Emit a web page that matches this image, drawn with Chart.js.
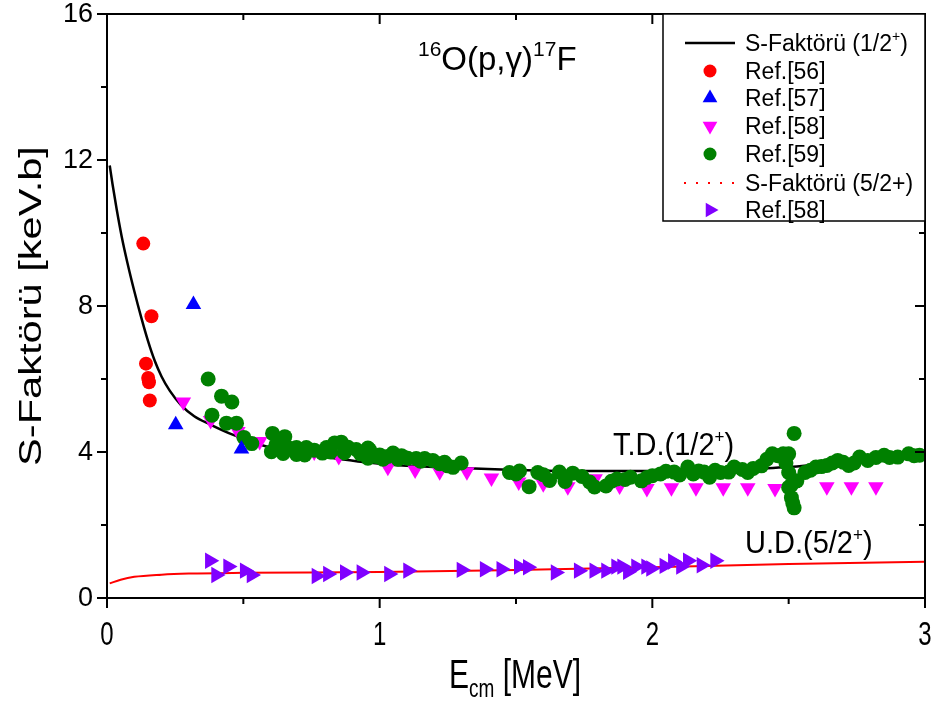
<!DOCTYPE html>
<html>
<head>
<meta charset="utf-8">
<script src="https://cdn.jsdelivr.net/npm/chart.js@4/dist/chart.umd.min.js"></script>
<style>
  body { margin: 0; background: #fff; }
  canvas { display: block; }
</style>
</head>
<body>
<canvas id="chart" width="931" height="706"></canvas>
<script>
// axis ticks
const xTickLabels = ['0', '1', '2', '3'];
const yTickLabels = ['0', '4', '8', '12', '16'];

// S-factor curve (1/2+)
const sHalfX = [0.01, 0.02, 0.035, 0.054, 0.075, 0.1, 0.125, 0.15, 0.175, 0.2, 0.23, 0.27, 0.32, 0.377, 0.463, 0.585, 0.755, 1.0, 1.3, 1.5, 1.75, 2.0, 2.25, 2.5, 2.75, 3.0];
const sHalfY = [11.85, 11.35, 10.67, 9.9, 9.18, 8.41, 7.7, 7.05, 6.5, 6.07, 5.68, 5.3, 4.98, 4.76, 4.47, 4.15, 3.92, 3.68, 3.56, 3.51, 3.48, 3.48, 3.52, 3.59, 3.78, 3.96];

// S-factor curve (5/2+)
const sFiveX = [0.01, 0.05, 0.1, 0.2, 0.3, 0.5, 1.0, 1.5, 2.0, 2.5, 3.0];
const sFiveY = [0.4, 0.5, 0.58, 0.64, 0.67, 0.69, 0.71, 0.77, 0.84, 0.93, 0.99];

// Ref.[56]
const ref56X = [0.133, 0.163, 0.143, 0.151, 0.154, 0.157];
const ref56Y = [9.71, 7.72, 6.42, 6.03, 5.91, 5.41];

// Ref.[57]
const ref57X = [0.317, 0.252, 0.493];
const ref57Y = [8.04, 4.75, 4.08];

// Ref.[58] (1/2+)
const ref58X = [0.28, 0.38, 0.48, 0.56, 0.76, 0.85, 1.03, 1.13, 1.22, 1.32, 1.41, 1.51, 1.6, 1.69, 1.79, 1.88, 1.98, 2.07, 2.16, 2.26, 2.35, 2.45, 2.64, 2.73, 2.82];
const ref58Y = [5.37, 4.86, 4.56, 4.29, 4.0, 3.88, 3.58, 3.51, 3.46, 3.46, 3.29, 3.18, 3.13, 3.05, 3.27, 3.07, 3.0, 3.02, 3.02, 3.02, 3.02, 3.0, 3.05, 3.05, 3.05];

// Ref.[59]
const ref59X = [0.371, 0.42, 0.458, 0.385, 0.438, 0.475, 0.502, 0.531, 0.607, 0.652, 0.603, 0.646, 0.652, 0.695, 0.731, 0.695, 0.725, 0.79, 0.805, 0.835,
  0.859, 0.884, 0.914, 0.957, 0.963, 0.957, 0.988, 1.0, 1.012, 1.049, 1.067, 1.103, 1.134, 1.165, 1.195, 1.238, 1.269, 1.299, 0.62, 0.67,
  0.76, 0.82, 0.87, 0.93, 1.03, 1.08, 1.15, 1.22, 1.25, 1.476, 1.513, 1.548, 1.58, 1.623, 1.659, 1.68, 1.708, 1.742, 1.788, 1.5,
  1.6, 1.77, 1.83, 1.87, 1.92, 1.96, 2.0, 2.05, 2.1, 2.13, 2.17, 2.21, 2.25, 2.3, 2.35, 2.4, 1.85, 1.9, 1.98, 2.03,
  2.08, 2.15, 2.19, 2.23, 2.28, 2.33, 2.37, 2.42, 2.44, 2.46, 2.48, 2.5, 2.52, 2.49, 2.5, 2.5, 2.51, 2.515, 2.51, 2.52,
  2.53, 2.56, 2.58, 2.6, 2.62, 2.64, 2.66, 2.68, 2.7, 2.72, 2.74, 2.76, 2.79, 2.82, 2.85, 2.87, 2.9, 2.94, 2.96, 2.98];
const ref59Y = [6.0, 5.53, 5.37, 5.01, 4.79, 4.79, 4.4, 4.23, 4.51, 4.42, 4.01, 3.96, 4.05, 4.12, 4.12, 3.93, 3.92, 3.97, 4.12, 4.25,
  4.27, 4.13, 4.07, 4.11, 4.06, 3.83, 3.88, 3.92, 3.8, 3.97, 3.8, 3.83, 3.82, 3.82, 3.77, 3.72, 3.58, 3.7, 4.2, 4.1,
  4.05, 4.0, 3.98, 3.95, 3.88, 3.9, 3.75, 3.68, 3.62, 3.44, 3.48, 3.05, 3.44, 3.22, 3.45, 3.19, 3.42, 3.33, 3.04, 3.4,
  3.38, 3.18, 3.07, 3.26, 3.31, 3.21, 3.35, 3.47, 3.37, 3.59, 3.48, 3.31, 3.44, 3.59, 3.44, 3.62, 3.2, 3.25, 3.3, 3.4,
  3.45, 3.4, 3.45, 3.5, 3.45, 3.52, 3.55, 3.8, 3.95, 3.9, 3.95, 3.95, 4.51, 3.7, 3.44, 3.03, 2.75, 2.6, 3.1, 2.47,
  3.21, 3.44, 3.5, 3.59, 3.6, 3.63, 3.7, 3.77, 3.72, 3.63, 3.7, 3.86, 3.77, 3.85, 3.91, 3.85, 3.86, 3.95, 3.9, 3.91];

// Ref.[58] (5/2+)
const ref58bX = [0.377, 0.40, 0.444, 0.505, 0.53, 0.768, 0.81, 0.872, 0.933, 1.034, 1.104, 1.30, 1.385, 1.446, 1.51, 1.543, 1.645, 1.73, 1.787, 1.83,
  1.867, 1.889, 1.91, 1.94, 1.977, 1.995, 2.044, 2.075, 2.105, 2.13, 2.18, 2.23];
const ref58bY = [1.02, 0.63, 0.86, 0.75, 0.63, 0.60, 0.66, 0.70, 0.70, 0.66, 0.75, 0.77, 0.79, 0.79, 0.86, 0.84, 0.70, 0.75, 0.75, 0.75,
  0.86, 0.86, 0.72, 0.86, 0.86, 0.81, 0.88, 1.0, 0.86, 1.02, 0.9, 1.02];

const pts = (xs, ys) => xs.map((v, i) => ({ x: v, y: ys[i] }));
const FONT = 'Arial, "Liberation Sans", sans-serif';

const datasets = [
  { label: 'S-Faktörü (1/2+)', data: pts(sHalfX, sHalfY), showLine: true, borderColor: '#000', borderWidth: 2.5,
    pointRadius: 0, cubicInterpolationMode: 'monotone', order: 9 },
  { label: 'Ref.[56]', data: pts(ref56X, ref56Y), backgroundColor: '#ff0000', borderColor: '#ff0000',
    pointStyle: 'circle', pointRadius: 7, borderWidth: 0, order: 1 },
  { label: 'Ref.[57]', data: pts(ref57X, ref57Y), backgroundColor: '#0000ff', borderColor: '#0000ff',
    pointStyle: 'triangle', pointRadius: 9, borderWidth: 0, order: 2 },
  { label: 'Ref.[58]', data: pts(ref58X, ref58Y), backgroundColor: '#ff00ff', borderColor: '#ff00ff',
    pointStyle: 'triangle', rotation: 180, pointRadius: 9, borderWidth: 0, order: 4 },
  { label: 'Ref.[59]', data: pts(ref59X, ref59Y), backgroundColor: '#008000', borderColor: '#008000',
    pointStyle: 'circle', pointRadius: 7.5, borderWidth: 0, order: 3 },
  { label: 'S-Faktörü (5/2+)', data: pts(sFiveX, sFiveY), showLine: true, borderColor: '#ff0000', borderWidth: 2,
    pointRadius: 0, cubicInterpolationMode: 'monotone', order: 8 },
  { label: 'Ref.[58]', data: pts(ref58bX, ref58bY), backgroundColor: '#8000ff', borderColor: '#8000ff',
    pointStyle: 'triangle', rotation: 90, pointRadius: 9.5, borderWidth: 0, order: 5 }
];

// draw a row of text pieces (sup/sub via dy), optionally stretched vertically by sy
function drawRuns(ctx, x, y, runs, sy) {
  sy = sy || 1;
  ctx.save();
  ctx.translate(x, y);
  ctx.scale(1, sy);
  let cx = 0;
  runs.forEach(r => {
    ctx.font = r.size + 'px ' + FONT;
    ctx.fillText(r.t, cx, (r.dy || 0) / sy);
    cx += ctx.measureText(r.t).width;
  });
  ctx.restore();
}

const framePlugin = {
  id: 'frame',
  afterDraw(chart) {
    const { ctx, chartArea: a, scales: { x, y } } = chart;
    ctx.save();
    ctx.strokeStyle = '#000';
    ctx.lineWidth = 2;
    ctx.strokeRect(a.left, a.top, a.right - a.left, a.bottom - a.top);

    // ticks: outward on bottom/left, inward on top/right
    ctx.beginPath();
    for (let v = 0; v <= 3.001; v += 0.5) {
      const px = x.getPixelForValue(v);
      const len = Math.abs(v - Math.round(v)) < 1e-6 ? 10 : 6;
      ctx.moveTo(px, a.bottom); ctx.lineTo(px, a.bottom + len);
      ctx.moveTo(px, a.top); ctx.lineTo(px, a.top + len);
    }
    for (let v = 0; v <= 16; v += 2) {
      const py = y.getPixelForValue(v);
      const len = v % 4 === 0 ? 10 : 6;
      ctx.moveTo(a.left - len, py); ctx.lineTo(a.left, py);
      ctx.moveTo(a.right - len, py); ctx.lineTo(a.right, py);
    }
    ctx.stroke();

    ctx.fillStyle = '#000';
    ctx.textBaseline = 'alphabetic';

    // tick labels
    ctx.textAlign = 'center';
    xTickLabels.forEach(l => {
      ctx.save();
      ctx.translate(x.getPixelForValue(Number(l)), 645);
      ctx.scale(1, 1.4);
      ctx.font = '24px ' + FONT;
      ctx.fillText(l, 0, 0);
      ctx.restore();
    });
    ctx.textAlign = 'right';
    ctx.textBaseline = 'middle';
    ctx.font = '27px ' + FONT;
    yTickLabels.forEach(l => {
      ctx.fillText(l, 93, y.getPixelForValue(Number(l)) + 1);
    });
    ctx.textBaseline = 'alphabetic';
    ctx.textAlign = 'left';

    // axis titles
    drawRuns(ctx, 449, 688, [{ t: 'E', size: 30 }, { t: 'cm', size: 19, dy: 9 }, { t: ' [MeV]', size: 30 }], 1.35);
    ctx.save();
    ctx.translate(41, 306);
    ctx.rotate(-Math.PI / 2);
    ctx.scale(1.3, 1);
    ctx.font = '32px ' + FONT;
    ctx.textAlign = 'center';
    ctx.fillText('S-Faktörü [keV.b]', 0, 0);
    ctx.restore();

    // in-plot labels
    drawRuns(ctx, 418, 70, [{ t: '16', size: 21, dy: -14 }, { t: 'O(p,γ)', size: 33 }, { t: '17', size: 21, dy: -14 }, { t: 'F', size: 33 }]);
    drawRuns(ctx, 613, 455, [{ t: 'T.D.(1/2', size: 29 }, { t: '+', size: 17, dy: -12 }, { t: ')', size: 29 }], 1.1);
    drawRuns(ctx, 745, 553, [{ t: 'U.D.(5/2', size: 29 }, { t: '+', size: 17, dy: -12 }, { t: ')', size: 29 }], 1.1);

    // legend box
    const lx = 663, ly = a.top, lw = a.right - lx, lh = 207;
    ctx.fillStyle = '#fff';
    ctx.fillRect(lx, ly, lw, lh);
    ctx.lineWidth = 1.5;
    ctx.strokeRect(lx, ly, lw, lh);
    const rows = [
      [{ t: 'S-Faktörü (1/2', size: 23 }, { t: '+', size: 14, dy: -10 }, { t: ')', size: 23 }],
      [{ t: 'Ref.[56]', size: 23 }],
      [{ t: 'Ref.[57]', size: 23 }],
      [{ t: 'Ref.[58]', size: 23 }],
      [{ t: 'Ref.[59]', size: 23 }],
      [{ t: 'S-Faktörü (5/2+)', size: 23 }],
      [{ t: 'Ref.[58]', size: 23 }]
    ];
    const rowY = [43, 71, 98, 126, 154, 183, 210];
    rows.forEach((runs, i) => {
      const ds = chart.data.datasets[i];
      const cy = rowY[i];
      if (ds.showLine) {
        ctx.strokeStyle = ds.borderColor;
        if (i === 0) {
          ctx.lineWidth = 2.5;
          ctx.beginPath(); ctx.moveTo(685, cy); ctx.lineTo(735, cy); ctx.stroke();
        } else {
          ctx.fillStyle = ds.borderColor;
          for (let k = 0; k < 5; k++) ctx.fillRect(684 + k * 12, cy - 1, 2, 2);
        }
      } else {
        ctx.fillStyle = ds.backgroundColor;
        ctx.strokeStyle = ds.borderColor;
        Chart.helpers.drawPoint(ctx, { pointStyle: ds.pointStyle, rotation: ds.rotation || 0, radius: ds.pointStyle === 'circle' ? 6.5 : 8.5, borderWidth: 0 }, 710, cy);
      }
      ctx.fillStyle = '#000';
      drawRuns(ctx, 745, cy + 8, runs);
    });
    ctx.restore();
  }
};

new Chart(document.getElementById('chart'), {
  type: 'scatter',
  data: { datasets },
  options: {
    responsive: false,
    animation: false,
    layout: { autoPadding: false, padding: { top: 14, right: 6, left: 0, bottom: 0 } },
    plugins: { legend: { display: false }, tooltip: { enabled: false } },
    scales: {
      x: {
        type: 'linear', min: 0, max: 3,
        grid: { display: false }, border: { display: false },
        ticks: { display: false, stepSize: 0.5 },
        afterFit: s => { s.height = 108; s.paddingLeft = 0; s.paddingRight = 0; }
      },
      y: {
        type: 'linear', min: 0, max: 16,
        grid: { display: false }, border: { display: false },
        ticks: { display: false, stepSize: 2 },
        afterFit: s => { s.width = 107; s.paddingTop = 0; s.paddingBottom = 0; }
      }
    }
  },
  plugins: [framePlugin]
});
</script>
</body>
</html>
